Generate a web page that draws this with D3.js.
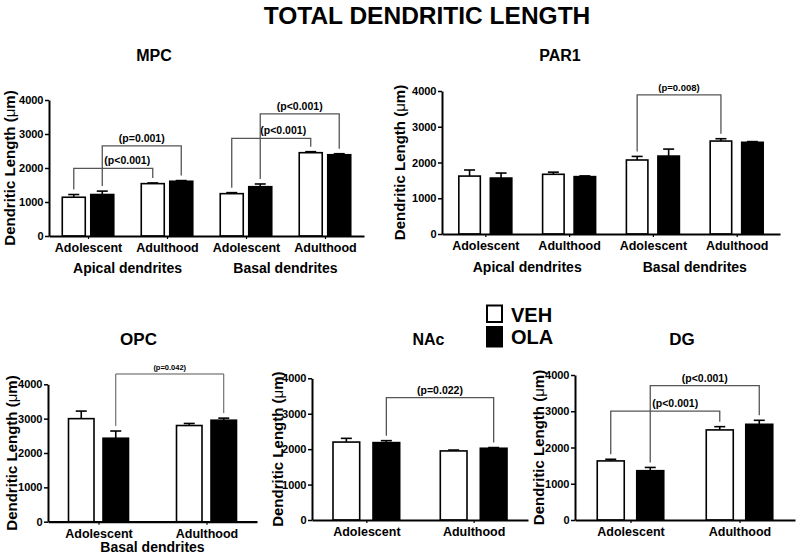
<!DOCTYPE html>
<html><head><meta charset="utf-8">
<script src="https://cdn.jsdelivr.net/npm/d3@7"></script>
<style>
body{margin:0;background:#fff}
svg{display:block}
text{font-family:"Liberation Sans",Arial,Helvetica,sans-serif;font-weight:bold;fill:#000}
</style>
</head><body>
<svg id="chart" width="798" height="558"></svg>
<script>
// ---------------- DATA ----------------
const series = ["VEH", "OLA"];
const yTicks = [0, 1000, 2000, 3000, 4000];
const yLabelText = "Dendritic Length (";

// MPC
const mpcCategories = ["Adolescent", "Adulthood", "Adolescent", "Adulthood"];
const mpcRegions = ["Apical dendrites", "Basal dendrites"];
const mpcVEH = [1140, 1540, 1245, 2450];
const mpcVEHErr = [80, 20, 30, 30];
const mpcOLA = [1220, 1610, 1450, 2390];
const mpcOLAErr = [100, 20, 80, 30];
const mpcBrackets = [
  {from: [0, "VEH"], to: [1, "VEH"], level: 1990, label: "(p<0.001)", dx: 14},
  {from: [0, "OLA"], to: [1, "OLA"], level: 2650, label: "(p=0.001)", dx: 0},
  {from: [2, "VEH"], to: [3, "VEH"], level: 2870, label: "(p<0.001)", dx: 12},
  {from: [2, "OLA"], to: [3, "OLA"], level: 3590, label: "(p<0.001)", dx: 0}
];

// PAR1
const par1Categories = ["Adolescent", "Adulthood", "Adolescent", "Adulthood"];
const par1Regions = ["Apical dendrites", "Basal dendrites"];
const par1VEH = [1620, 1670, 2070, 2600];
const par1VEHErr = [170, 60, 100, 65];
const par1OLA = [1565, 1605, 2180, 2565];
const par1OLAErr = [140, 20, 195, 20];
const par1Brackets = [
  {from: [2, "VEH"], to: [3, "VEH"], level: 3890, label: "(p=0.008)", dx: 0}
];

// OPC
const opcCategories = ["Adolescent", "Adulthood"];
const opcRegions = ["Basal dendrites"];
const opcVEH = [3000, 2800];
const opcVEHErr = [220, 60];
const opcOLA = [2430, 2955];
const opcOLAErr = [210, 60];
const opcBrackets = [
  {from: [0, "OLA"], to: [1, "OLA"], level: 4300, label: "(p=0.042)", dx: 0}
];

// NAc
const nacCategories = ["Adolescent", "Adulthood"];
const nacRegions = [];
const nacVEH = [2200, 1950];
const nacVEHErr = [105, 25];
const nacOLA = [2185, 2025];
const nacOLAErr = [55, 20];
const nacBrackets = [
  {from: [0, "OLA"], to: [1, "OLA"], level: 3455, label: "(p=0.022)", dx: 0}
];

// DG
const dgCategories = ["Adolescent", "Adulthood"];
const dgRegions = [];
const dgVEH = [1630, 2485];
const dgVEHErr = [45, 90];
const dgOLA = [1360, 2640];
const dgOLAErr = [90, 110];
const dgBrackets = [
  {from: [0, "VEH"], to: [1, "VEH"], level: 3005, label: "(p<0.001)", dx: 10},
  {from: [0, "OLA"], to: [1, "OLA"], level: 3705, label: "(p<0.001)", dx: 0}
];

// ---------------- LAYOUT ----------------
const svg = d3.select("#chart");

svg.append("text")
  .attr("x", 427).attr("y", 24)
  .attr("text-anchor", "middle")
  .attr("font-size", 24.5)
  .text("TOTAL DENDRITIC LENGTH");

const panels = [
  {title: "MPC", tx: 154, ty: 61, tfs: 16,
   categories: mpcCategories, regions: mpcRegions,
   veh: mpcVEH, vehErr: mpcVEHErr, ola: mpcOLA, olaErr: mpcOLAErr, brackets: mpcBrackets,
   x0: 49, x1: 364, pad: 0.494, yBottom: 236, yTop: 100, barW: 23, barGap: 5.5,
   regionDy: 36.5, ylx: 15, bracketFont: 10.5, bracketWeight: "bold", bracketStroke: 1.3},
  {title: "PAR1", tx: 560, ty: 61, tfs: 16,
   categories: par1Categories, regions: par1Regions,
   veh: par1VEH, vehErr: par1VEHErr, ola: par1OLA, olaErr: par1OLAErr, brackets: par1Brackets,
   x0: 442, x1: 780, pad: 0.517, yBottom: 234, yTop: 91, barW: 21.5, barGap: 10,
   regionDy: 37.7, ylx: 405, bracketFont: 9.5, bracketWeight: "bold", bracketStroke: 1.3},
  {title: "OPC", tx: 138.5, ty: 345, tfs: 17,
   categories: opcCategories, regions: opcRegions,
   veh: opcVEH, vehErr: opcVEHErr, ola: opcOLA, olaErr: opcOLAErr, brackets: opcBrackets,
   x0: 48, x1: 257, pad: 0.4676, yBottom: 521.7, yTop: 384.3, barW: 25.5, barGap: 9,
   regionDy: 30.6, ylx: 17, bracketFont: 7.5, bracketWeight: "normal", bracketStroke: 1},
  {title: "NAc", tx: 428.5, ty: 345, tfs: 16,
   categories: nacCategories, regions: nacRegions,
   veh: nacVEH, vehErr: nacVEHErr, ola: nacOLA, olaErr: nacOLAErr, brackets: nacBrackets,
   x0: 312, x1: 528, pad: 0.5065, yBottom: 520, yTop: 378.3, barW: 26.7, barGap: 13.3,
   regionDy: 31, ylx: 283, bracketFont: 10.5, bracketWeight: "bold", bracketStroke: 1.3},
  {title: "DG", tx: 682, ty: 345, tfs: 17,
   categories: dgCategories, regions: dgRegions,
   veh: dgVEH, vehErr: dgVEHErr, ola: dgOLA, olaErr: dgOLAErr, brackets: dgBrackets,
   x0: 575, x1: 795, pad: 0.509, yBottom: 520, yTop: 375, barW: 27, barGap: 12.5,
   regionDy: 31, ylx: 544, bracketFont: 10.5, bracketWeight: "bold", bracketStroke: 1.3}
];

function drawPanel(p) {
  const g = svg.append("g");
  const y = d3.scaleLinear().domain([0, 4000]).range([p.yBottom, p.yTop]);
  const x = d3.scalePoint().domain(d3.range(p.categories.length)).range([p.x0, p.x1]).padding(p.pad);
  const half = p.barW + p.barGap / 2;
  const inner = d3.scaleBand().domain(series).range([-half, half])
    .paddingInner(p.barGap / (p.barW + p.barGap)).paddingOuter(0);
  const vals = {VEH: p.veh, OLA: p.ola};
  const errs = {VEH: p.vehErr, OLA: p.olaErr};
  const rows = [];
  p.categories.forEach((c, i) => series.forEach(s => rows.push({i, s, v: vals[s][i], e: errs[s][i]})));
  const cx = d => x(d.i) + inner(d.s) + inner.bandwidth() / 2;

  // title
  g.append("text")
    .attr("x", p.tx).attr("y", p.ty).attr("text-anchor", "middle")
    .attr("font-size", p.tfs)
    .text(p.title);

  // error bars
  const eb = g.append("g").attr("stroke", "#000").attr("stroke-width", 1.6);
  eb.selectAll("line.v").data(rows).join("line").attr("class", "v")
    .attr("x1", cx).attr("x2", cx)
    .attr("y1", d => y(d.v)).attr("y2", d => y(d.v + d.e));
  eb.selectAll("line.c").data(rows).join("line").attr("class", "c")
    .attr("x1", d => cx(d) - 5.5).attr("x2", d => cx(d) + 5.5)
    .attr("y1", d => y(d.v + d.e)).attr("y2", d => y(d.v + d.e));

  // bars
  g.append("g").selectAll("rect").data(rows).join("rect")
    .attr("x", d => x(d.i) + inner(d.s))
    .attr("y", d => y(d.v))
    .attr("width", inner.bandwidth())
    .attr("height", d => y(0) - y(d.v))
    .attr("fill", d => d.s === "VEH" ? "#fff" : "#000")
    .attr("stroke", "#000").attr("stroke-width", 1.6);

  // y axis
  const ya = g.append("g").attr("transform", `translate(${p.x0},0)`)
    .call(d3.axisLeft(y).tickValues(yTicks).tickFormat(d3.format("d"))
      .tickSize(4).tickSizeOuter(0).tickPadding(1.5));
  ya.select(".domain").attr("stroke-width", 2);
  ya.selectAll(".tick line").attr("stroke-width", 1.5);
  ya.selectAll(".tick text").attr("font-size", 11).attr("font-weight", "bold")
    .attr("font-family", '"Liberation Sans",Arial,sans-serif');

  // x axis
  const xa = g.append("g").attr("transform", `translate(0,${p.yBottom})`)
    .call(d3.axisBottom(x).tickSize(3).tickSizeOuter(0).tickPadding(4)
      .tickFormat(i => p.categories[i]));
  xa.select(".domain").attr("stroke-width", 2.2);
  xa.selectAll(".tick line").attr("stroke-width", 1.2);
  xa.selectAll(".tick text").attr("font-size", 12.5).attr("font-weight", "bold")
    .attr("font-family", '"Liberation Sans",Arial,sans-serif');

  // region labels
  p.regions.forEach((r, k) => {
    const a = x(k * 2), b = x(k * 2 + 1);
    g.append("text").attr("x", (a + b) / 2).attr("y", p.yBottom + p.regionDy)
      .attr("text-anchor", "middle").attr("font-size", 14).text(r);
  });

  // y label
  const yl = g.append("text")
    .attr("transform", `translate(${p.ylx},${(p.yBottom + p.yTop) / 2}) rotate(-90)`)
    .attr("text-anchor", "middle").attr("font-size", 15);
  yl.append("tspan").text(yLabelText);
  yl.append("tspan").attr("font-weight", "normal").text("\u03bc");
  yl.append("tspan").text("m)");

  // brackets
  const gap = 5;
  const legEnd = ([i, s]) => y(vals[s][i] + errs[s][i]) - gap;
  const legX = ([i, s]) => x(i) + inner(s) + inner.bandwidth() / 2;
  p.brackets.forEach(b => {
    const xa_ = legX(b.from), xb_ = legX(b.to), yh = y(b.level);
    g.append("path")
      .attr("d", `M${xa_},${legEnd(b.from)}V${yh}H${xb_}V${legEnd(b.to)}`)
      .attr("fill", "none").attr("stroke", "#555").attr("stroke-width", p.bracketStroke);
    g.append("text").attr("x", (xa_ + xb_) / 2 + b.dx).attr("y", yh - 4)
      .attr("text-anchor", "middle").attr("font-size", p.bracketFont)
      .attr("font-weight", p.bracketWeight).text(b.label);
  });
}

panels.forEach(drawPanel);

// legend
const legend = svg.append("g");
series.forEach((s, k) => {
  legend.append("rect").attr("x", 487).attr("y", k === 0 ? 305.5 : 327)
    .attr("width", 15).attr("height", k === 0 ? 16.5 : 19.5)
    .attr("fill", s === "VEH" ? "#fff" : "#000").attr("stroke", "#000").attr("stroke-width", 2);
  legend.append("text").attr("x", 511).attr("y", k === 0 ? 322 : 343.5)
    .attr("font-size", 20).text(s);
});
</script>
</body></html>
